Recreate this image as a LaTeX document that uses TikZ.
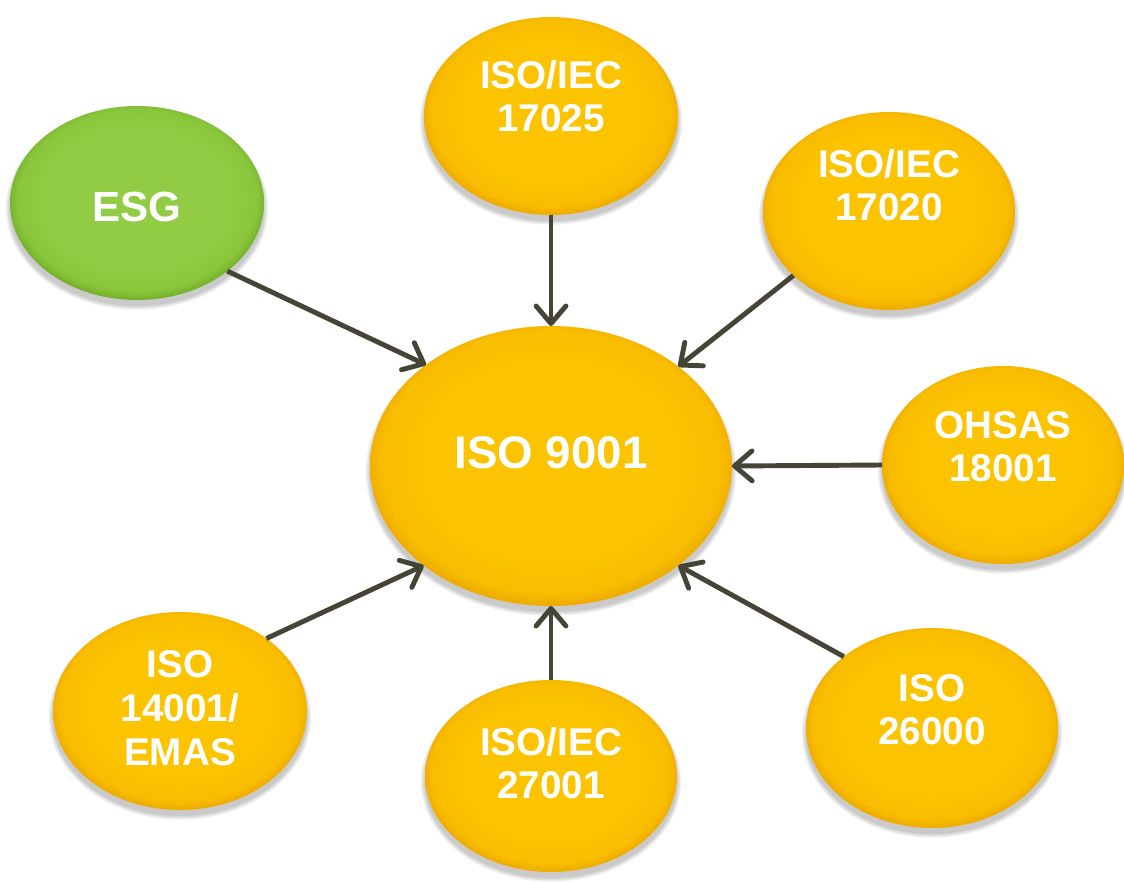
\documentclass[tikz,border=0pt]{standalone}
\usepackage{fontspec}
\setmainfont{Liberation Sans}
\usetikzlibrary{shapes.geometric,arrows.meta}
\definecolor{yc}{RGB}{251,195,0}
\definecolor{ym}{RGB}{249,189,0}
\definecolor{ye}{RGB}{238,172,0}
\definecolor{gc}{RGB}{146,204,68}
\definecolor{gm}{RGB}{138,198,60}
\definecolor{ge}{RGB}{118,176,44}
\definecolor{arrowc}{RGB}{70,68,54}
\pgfdeclareradialshading{yelsh}{\pgfpoint{0bp}{1.5bp}}{color(0bp)=(yc); color(18bp)=(yc); color(23.5bp)=(ym); color(25.5bp)=(ye); color(50bp)=(ye)}
\pgfdeclareradialshading{grnsh}{\pgfpoint{0bp}{1.5bp}}{color(0bp)=(gc); color(18bp)=(gc); color(23.5bp)=(gm); color(25.5bp)=(ge); color(50bp)=(ge)}
\tikzset{
  blobnode/.style={ellipse, inner sep=0pt, outer sep=0pt, draw=none},
  lbl/.style={text=white, font=\bfseries\fontsize{22}{24.5}\selectfont, align=center, inner sep=0pt},
  conn/.style={draw=arrowc, line width=2.8pt, -{Straight Barb[length=10pt,width=17pt,round]}},
}
\newcommand{\blob}[6]{%
  \foreach \d in {0.02,0.07,0.12,0.17}{%
    \node[blobnode, fill=black, opacity=0.055, minimum width=#4cm+\d cm, minimum height=#5cm+\d cm] at ([yshift=-0.11cm]#2,#3) {};
  }
  \node[blobnode, shading=#6, minimum width=#4cm, minimum height=#5cm] (#1) at (#2,#3) {};
}
\begin{document}
\begin{tikzpicture}[x=0.02cm,y=-0.02cm]
\fill[white] (0,0) rectangle (1124,881);
\useasboundingbox (0,0) rectangle (1124,881);
% ellipses
\blob{esg}{137}{203}{5.08}{3.88}{grnsh}
\blob{iso}{551}{466}{7.24}{5.6}{yelsh}
\blob{n17025}{551}{116}{5.08}{3.96}{yelsh}
\blob{n17020}{889}{211}{5.04}{3.96}{yelsh}
\blob{ohsas}{1003}{465}{4.84}{3.96}{yelsh}
\blob{n26000}{932}{728}{5.04}{4.0}{yelsh}
\blob{n27001}{551}{776}{5.04}{3.84}{yelsh}
\blob{n14001}{180}{711}{5.08}{3.96}{yelsh}
% labels
\node[lbl, font=\bfseries\fontsize{26}{28}\selectfont] (t-iso) at ([yshift=0.26cm]iso.center) {ISO 9001};
\node[lbl, font=\bfseries\fontsize{24}{28}\selectfont] (t-esg) at ([yshift=-0.08cm]esg.center) {ESG};
\node[lbl] (t-17025) at ([yshift=0.40cm]n17025.center) {ISO/IEC\\17025};
\node[lbl] (t-17020) at ([yshift=0.52cm]n17020.center) {ISO/IEC\\17020};
\node[lbl] (t-ohsas) at ([yshift=0.36cm]ohsas.center) {OHSAS\\18001};
\node[lbl] (t-26000) at ([yshift=0.36cm]n26000.center) {ISO\\26000};
\node[lbl] (t-27001) at ([yshift=0.26cm]n27001.center) {ISO/IEC\\27001};
\node[lbl, font=\bfseries\fontsize{22}{25}\selectfont] (t-14001) at ([yshift=0.06cm]n14001.center) {ISO\\14001/\\EMAS};
% connectors
\draw[conn] (esg.-37.5) -- (iso.141.2);
\draw[conn] (n17025.south) -- (iso.north);
\draw[conn] (n17020.214.3) -- (iso.38.9);
\draw[conn] (ohsas.west) -- (iso.east);
\draw[conn] (n26000.141.8) -- (iso.-38.3);
\draw[conn] (n27001.north) -- (iso.south);
\draw[conn] (n14001.40.3) -- (iso.218.1);
\end{tikzpicture}
\end{document}
